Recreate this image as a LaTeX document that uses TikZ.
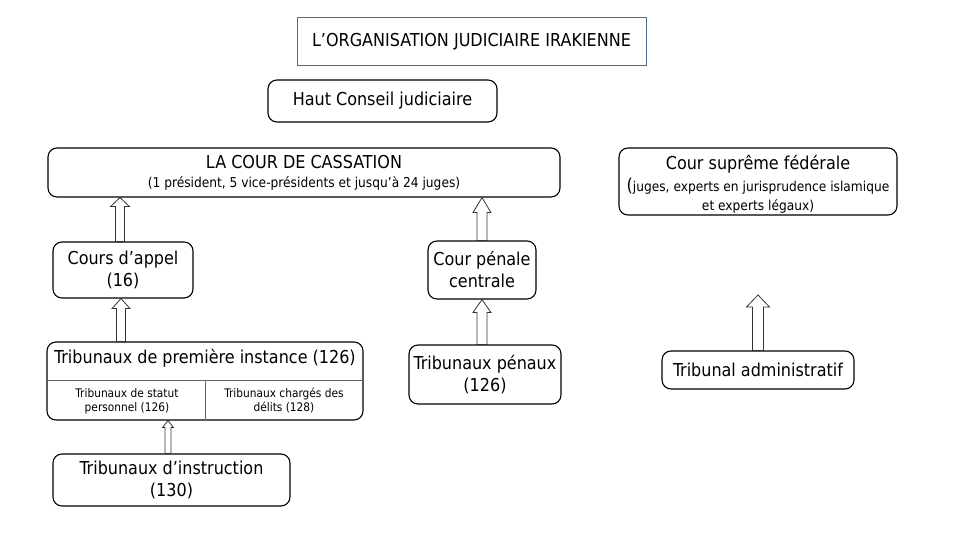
\documentclass[tikz,border=0pt]{standalone}
\usepackage{fontspec}
\setmainfont{DejaVu Sans Condensed}
\usetikzlibrary{calc}

\definecolor{titleblue}{RGB}{68,114,160}
\newcommand{\mainsize}{\fontsize{17.8}{22}\selectfont}
\newcommand{\smallsize}{\fontsize{13.6}{17}\selectfont}
\newcommand{\tinysize}{\fontsize{11.8}{14}\selectfont}

% hollow block arrow pointing up: bottom, top, shaft half width, head half width, head length
\newcommand{\blockarrow}[5]{%
	\draw[block arrow] let \p1=(#1), \p2=(#2) in
		(\x1-#3pt,\y1) -- (\x1-#3pt,\y2-#5pt) -- (\x1-#4pt,\y2-#5pt) -- (\x1,\y2)
		-- (\x1+#4pt,\y2-#5pt) -- (\x1+#3pt,\y2-#5pt) -- (\x1+#3pt,\y1) -- cycle;}

\begin{document}
\begin{tikzpicture}[x=1pt, y=-1pt,
	box/.style={draw, line width=1.1pt, rounded corners=9pt, align=center, inner sep=0pt, font=\mainsize},
	title box/.style={draw=titleblue, line width=1pt, align=center, inner sep=0pt, font=\mainsize},
	box text/.style={align=center, inner sep=0pt, font=\mainsize},
	sub text/.style={align=center, inner sep=0pt, font=\tinysize},
	split line/.style={draw=black!60, line width=0.7pt},
	block arrow/.style={draw=black!80, fill=white, line width=0.8pt}]

	\fill[white] (0,0) rectangle (960,540);
	\useasboundingbox (0,0) rectangle (960,540);

	% top
	\node[title box, minimum width=349pt, minimum height=48pt] (titre) at (471.5,42) {L’ORGANISATION JUDICIAIRE IRAKIENNE};
	\node[box, minimum width=229pt, minimum height=42pt] (conseil) at (382.5,101) {Haut Conseil judiciaire};
	\node[box, minimum width=512pt, minimum height=49pt] (cassation) at (304,172.5)
		{LA COUR DE CASSATION\\[-3pt]\smallsize (1 président, 5 vice-présidents et jusqu’à 24 juges)};
	\node[box, minimum width=278pt, minimum height=67pt] (supreme) at (758,181.5) {};
	\node[box text] (supremetexte) at (758,184.5)
		{Cour suprême fédérale\\\smallsize{\mainsize(}juges, experts en jurisprudence islamique\\[-3pt]\smallsize et experts légaux)};

	% courts
	\node[box, minimum width=140pt, minimum height=56pt] (appel) at (123,270) {Cours d’appel\\(16)};
	\node[box, minimum width=108pt, minimum height=58pt] (penale) at (482,270) {Cour pénale\\centrale};
	\node[box, minimum width=316pt, minimum height=78pt] (premiere) at (205,381) {};
	\node[box text] (premtitre) at (205,358) {Tribunaux de première instance (126)};
	\draw[split line] ([yshift=-39pt]premiere.north west) -- ([yshift=-39pt]premiere.north east);
	\draw[split line] ([yshift=-39pt]premiere.north) -- (premiere.south);
	\node[sub text] (statut) at (127,401) {Tribunaux de statut\\personnel (126)};
	\node[sub text] (delits) at (284,401) {Tribunaux chargés des\\délits (128)};
	\node[box, minimum width=152pt, minimum height=59pt] (penaux) at (485,374.5) {Tribunaux pénaux\\(126)};
	\node[box, minimum width=192pt, minimum height=38pt] (admin) at (758,370) {Tribunal administratif};
	\node[box, minimum width=237pt, minimum height=52pt] (instruction) at (171.5,480) {Tribunaux d’instruction\\(130)};
	\coordinate (admintip) at (758,295);

	% arrows
	\blockarrow{$(appel.north)+(-3,0)$}{$(appel.north |- cassation.south)+(-3,0)$}{4.5}{9.5}{9}
	\blockarrow{$(appel.south |- premiere.north)+(-2,0)$}{$(appel.south)+(-2,0)$}{4.5}{9}{10}
	\blockarrow{$(instruction.north)+(-3.5,0)$}{$(instruction.north |- premiere.south)+(-3.5,0)$}{3}{5.5}{7}
	\blockarrow{penale.north}{penale.north |- cassation.south}{5}{9}{15}
	\blockarrow{penale.south |- penaux.north}{penale.south}{5}{9}{13}
	\blockarrow{admin.north}{admin.north |- admintip}{5.5}{11.5}{12}
\end{tikzpicture}
\end{document}
